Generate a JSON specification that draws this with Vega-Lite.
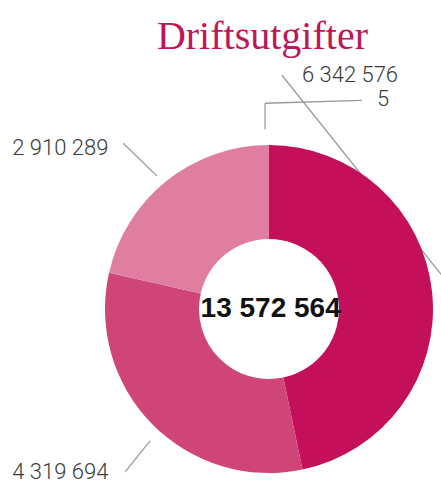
{
  "$schema": "https://vega.github.io/schema/vega-lite/v6.json",
  "autosize": {"type": "none"},
  "width": 344,
  "height": 344,
  "padding": {"left": 97, "top": 137, "right": 0, "bottom": 3},
  "background": "white",
  "config": {
    "view": {"stroke": null},
    "locale": {"number": {"decimal": ",", "thousands": " ", "grouping": [3], "currency": ["", " kr"]}}
  },
  "datasets": {
    "slices": [
      {"post": "Post 1", "value": 6342576, "order": 1},
      {"post": "Post 2", "value": 4319694, "order": 2},
      {"post": "Post 3", "value": 2910289, "order": 3},
      {"post": "Post 4", "value": 5, "order": 4}
    ],
    "labels": [
      {"post": "Post 1", "lx": 0.201, "ly": 1.384},
      {"post": "Post 4", "lx": 0.659, "ly": 1.238},
      {"post": "Post 3", "lx": -1.567, "ly": 0.939},
      {"post": "Post 2", "lx": -1.567, "ly": -1.04}
    ],
    "leaders": [
      {"x": 0.079, "y": 1.427, "x2": 1.073, "y2": 0.183},
      {"x": -0.024, "y": 1.098, "x2": -0.024, "y2": 1.256},
      {"x": -0.024, "y": 1.256, "x2": 0.567, "y2": 1.274},
      {"x": -0.89, "y": 1.012, "x2": -0.683, "y2": 0.811},
      {"x": -0.878, "y": -0.994, "x2": -0.726, "y2": -0.805}
    ],
    "heading": [
      {"tekst": "Driftsutgifter", "x": -0.04, "y": 1.59}
    ]
  },
  "layer": [
    {
      "data": {"name": "leaders"},
      "mark": {"type": "rule", "color": "#9a9a9a", "strokeWidth": 1.3},
      "encoding": {
        "x": {"field": "x", "type": "quantitative", "scale": {"domain": [-1.05, 1.05], "nice": false, "zero": false}, "axis": null},
        "y": {"field": "y", "type": "quantitative", "scale": {"domain": [-1.05, 1.05], "nice": false, "zero": false}, "axis": null},
        "x2": {"field": "x2"},
        "y2": {"field": "y2"}
      }
    },
    {
      "data": {"name": "slices"},
      "mark": {"type": "arc", "radius": 164, "radius2": 70},
      "encoding": {
        "theta": {"field": "value", "type": "quantitative", "stack": true},
        "order": {"field": "order", "type": "quantitative"},
        "color": {
          "field": "post",
          "type": "nominal",
          "legend": null,
          "scale": {"domain": ["Post 1", "Post 2", "Post 3", "Post 4"], "range": ["#c4105b", "#d04578", "#df7ea1", "#c4105b"]}
        }
      }
    },
    {
      "data": {"name": "labels"},
      "transform": [
        {"lookup": "post", "from": {"data": {"name": "slices"}, "key": "post", "fields": ["value"]}}
      ],
      "mark": {"type": "text", "align": "left", "baseline": "alphabetic", "font": "Roboto, sans-serif", "fontWeight": 300, "fontSize": 22, "color": "#3a3a3a"},
      "encoding": {
        "x": {"field": "lx", "type": "quantitative"},
        "y": {"field": "ly", "type": "quantitative"},
        "text": {"field": "value", "type": "quantitative", "format": ",d"}
      }
    },
    {
      "data": {"name": "slices"},
      "transform": [{"aggregate": [{"op": "sum", "field": "value", "as": "total"}]}],
      "mark": {"type": "text", "align": "center", "baseline": "middle", "font": "Liberation Sans, sans-serif", "fontWeight": "bold", "fontSize": 28, "color": "#111111"},
      "encoding": {
        "x": {"datum": 0.01, "type": "quantitative"},
        "y": {"datum": 0, "type": "quantitative"},
        "text": {"field": "total", "type": "quantitative", "format": ",d"}
      }
    },
    {
      "data": {"name": "heading"},
      "mark": {"type": "text", "align": "center", "baseline": "alphabetic", "font": "Liberation Serif, serif", "fontSize": 40, "color": "#c0155a"},
      "encoding": {
        "x": {"field": "x", "type": "quantitative"},
        "y": {"field": "y", "type": "quantitative"},
        "text": {"field": "tekst"}
      }
    }
  ]
}
